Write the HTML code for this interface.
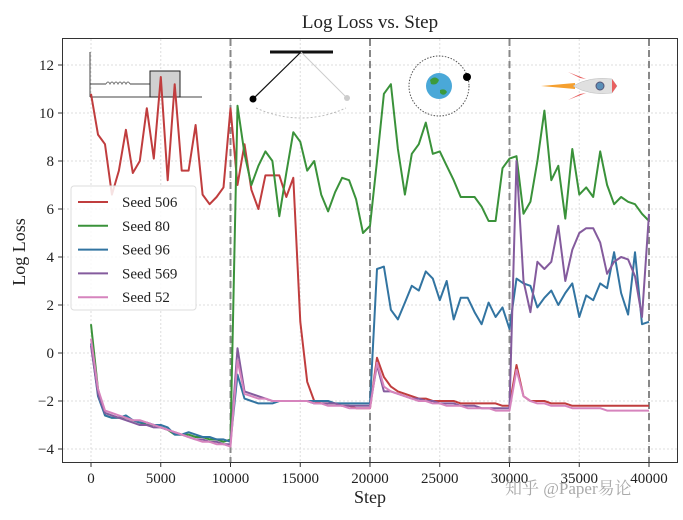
<!DOCTYPE html>
<html><head><meta charset="utf-8"><style>
html,body{margin:0;padding:0;background:#fff;}
svg text{font-family:"Liberation Serif","Noto Serif CJK SC",serif;}
</style></head><body>
<svg id="chart" width="683" height="515" xmlns="http://www.w3.org/2000/svg">
<rect x="0" y="0" width="683" height="515" fill="#fff"/>
<g id="grid"></g>
<g id="vlines"></g>
<g id="icons">
  <g stroke="#444" fill="none">
    <line x1="90" y1="52" x2="90" y2="97"/>
    <line x1="90" y1="97" x2="202" y2="97"/>
    <line x1="90" y1="84" x2="106" y2="84"/>
    <path d="M106 84 q2 -4 4 0 q2 -4 4 0 q2 -4 4 0 q2 -4 4 0 q2 -4 4 0 q2 -4 4 0" stroke="#777"/>
    <line x1="130" y1="84" x2="150" y2="84"/>
    <rect x="150" y="71" width="30" height="26" fill="#d0d0d0" stroke="#222"/>
  </g>
  <g>
    <line x1="270" y1="52" x2="333" y2="52" stroke="#111" stroke-width="3"/>
    <line x1="301" y1="52" x2="253" y2="99" stroke="#111" stroke-width="1.2"/>
    <line x1="301" y1="52" x2="347" y2="98" stroke="#ccc" stroke-width="1"/>
    <circle cx="253" cy="99" r="3.5" fill="#000"/>
    <circle cx="347" cy="98" r="3" fill="#ccc"/>
    <path d="M256 108 Q301 128 346 108" stroke="#bbb" fill="none" stroke-dasharray="2 2"/>
  </g>
  <g>
    <circle cx="439" cy="86" r="30" fill="none" stroke="#555" stroke-dasharray="1.5 1.5"/>
    <circle cx="439" cy="86" r="13" fill="#4aa8d8"/>
    <path d="M430 80 q5 -5 9 0 q-2 6 -8 4z M440 90 q5 -2 7 2 q-3 5 -7 1z" fill="#3c9a3c"/>
    <circle cx="467" cy="77" r="4" fill="#000"/>
  </g>
  <g>
    <path d="M541 86 L575 83 L575 89 Z" fill="#f5a030"/>
    <path d="M573 86 Q590 76 612 79 L617 86 L612 93 Q590 96 573 86Z" fill="#e0e0e0" stroke="#bbb" stroke-width="0.5"/>
    <path d="M580 78 L568 72 L586 79Z M580 94 L568 100 L586 93Z" fill="#e86060"/>
    <path d="M612 79 L617 86 L612 93 Z" fill="#e86060"/>
    <circle cx="600" cy="86" r="4" fill="#5b8fb8" stroke="#557"/>
  </g>
</g>
<g id="series"></g>
<rect x="62.5" y="38.5" width="615" height="424" fill="none" stroke="#333" stroke-width="1"/>
<g id="axes"></g>
<text x="370" y="28" font-size="19" text-anchor="middle" fill="#222">Log Loss vs. Step</text>
<text x="370" y="503" font-size="18" text-anchor="middle" fill="#222">Step</text>
<text x="25" y="252" font-size="18" text-anchor="middle" fill="#222" transform="rotate(-90 25 252)">Log Loss</text>
<g id="legend">
  <rect x="71" y="186" width="125" height="124" rx="3" fill="#fff" fill-opacity="0.85" stroke="#ddd"/>
</g>
<text x="505" y="494" font-size="17" fill="#aaa" font-family="Liberation Sans, Noto Sans CJK SC, sans-serif">知乎 @Paper易论</text>
</svg>
<script>
const seriesNames = ["Seed 506","Seed 80","Seed 96","Seed 569","Seed 52"];
const seriesColors = ["#c03d3e","#3a923a","#3274a1","#845b9d","#d684bd"];
const xTicks = [0,5000,10000,15000,20000,25000,30000,35000,40000];
const yTicks = [-4,-2,0,2,4,6,8,10,12];
const taskBoundaries = [10000,20000,30000,40000];
const stepStart = 0, stepSize = 500, stepCount = 81;
const seed506 = [10.8,9.1,8.7,6.6,7.6,9.3,7.5,8.0,10.2,8.1,11.5,7.2,11.2,7.6,7.6,9.5,6.6,6.2,6.5,6.9,10.2,
 7.0,8.7,6.8,6.0,7.4,7.4,7.4,6.5,7.3,1.3,-1.2,-2.0,-2.1,-2.1,-2.1,-2.2,-2.2,-2.3,-2.3,-2.3,
 -0.2,-1.0,-1.4,-1.6,-1.7,-1.8,-1.9,-1.9,-2.0,-2.0,-2.0,-2.0,-2.1,-2.1,-2.1,-2.1,-2.1,-2.1,-2.2,-2.2,
 -0.5,-1.8,-2.0,-2.0,-2.0,-2.1,-2.1,-2.1,-2.2,-2.2,-2.2,-2.2,-2.2,-2.2,-2.2,-2.2,-2.2,-2.2,-2.2,-2.2];
const seed80 = [1.2,-1.5,-2.6,-2.7,-2.7,-2.7,-2.8,-2.9,-3.0,-3.0,-3.1,-3.2,-3.4,-3.4,-3.4,-3.5,-3.5,-3.6,-3.6,-3.7,-3.6,
 10.3,8.3,7.0,7.8,8.4,8.0,5.7,7.5,9.2,8.8,7.6,8.0,6.6,5.9,6.7,7.3,7.2,6.4,5.0,5.3,
 8.0,10.8,11.2,8.5,6.6,8.3,8.7,9.6,8.3,8.4,7.8,7.2,6.5,6.5,6.5,6.1,5.5,5.5,7.7,8.1,
 8.2,5.8,6.3,8.0,10.1,7.2,7.8,5.6,8.5,6.6,6.9,6.5,8.4,7.0,6.2,6.5,6.3,6.2,5.8,5.5];
const seed96 = [0.4,-1.8,-2.6,-2.7,-2.7,-2.6,-2.8,-2.9,-2.9,-3.0,-3.0,-3.1,-3.4,-3.4,-3.3,-3.4,-3.5,-3.5,-3.6,-3.6,-3.7,
 -0.9,-1.9,-2.0,-2.1,-2.1,-2.1,-2.0,-2.0,-2.0,-2.0,-2.0,-2.0,-2.0,-2.0,-2.1,-2.1,-2.1,-2.1,-2.1,-2.1,
 3.5,3.6,1.8,1.4,2.1,2.8,2.6,3.4,3.1,2.2,3.0,1.4,2.3,2.3,1.7,1.2,2.1,1.5,1.9,1.0,
 3.1,2.9,2.8,1.9,2.3,2.6,2.0,2.5,2.9,1.5,2.4,2.2,2.9,2.7,4.2,2.5,1.6,4.2,1.2,1.3];
const seed569 = [0.3,-1.7,-2.5,-2.6,-2.7,-2.8,-2.9,-3.0,-3.0,-3.1,-3.1,-3.2,-3.3,-3.4,-3.5,-3.6,-3.6,-3.7,-3.7,-3.8,-3.8,
 0.2,-1.6,-1.7,-1.8,-1.9,-2.0,-2.0,-2.0,-2.0,-2.0,-2.0,-2.1,-2.1,-2.1,-2.1,-2.2,-2.2,-2.2,-2.2,-2.2,
 -0.5,-1.6,-1.6,-1.7,-1.8,-1.9,-1.9,-2.0,-2.0,-2.1,-2.1,-2.1,-2.2,-2.2,-2.2,-2.3,-2.3,-2.3,-2.3,-2.3,
 8.0,3.0,1.7,3.8,3.5,3.8,5.3,3.0,4.3,5.0,5.2,5.2,4.6,3.3,3.8,4.0,3.9,3.2,1.5,5.8];
const seed52 = [0.6,-1.5,-2.4,-2.5,-2.6,-2.7,-2.8,-2.8,-2.9,-3.0,-3.1,-3.2,-3.3,-3.4,-3.5,-3.6,-3.7,-3.7,-3.8,-3.8,-3.9,
 -0.3,-1.7,-1.8,-1.9,-1.9,-2.0,-2.0,-2.0,-2.0,-2.0,-2.0,-2.1,-2.1,-2.2,-2.2,-2.2,-2.3,-2.3,-2.3,-2.3,
 -0.4,-1.4,-1.6,-1.7,-1.8,-1.9,-2.0,-2.0,-2.1,-2.1,-2.2,-2.2,-2.2,-2.3,-2.3,-2.3,-2.3,-2.4,-2.4,-2.4,
 -0.7,-1.8,-2.0,-2.1,-2.1,-2.2,-2.2,-2.2,-2.3,-2.3,-2.3,-2.3,-2.3,-2.4,-2.4,-2.4,-2.4,-2.4,-2.4,-2.4];
const seriesValues = [seed506,seed80,seed96,seed569,seed52];

const NS = "http://www.w3.org/2000/svg";
const X0 = 91, X1 = 649, Y0 = 353, YPX = 24.0;
function xs(v){ return X0 + (v/40000)*(X1-X0); }
function ys(v){ return Y0 - v*YPX; }
function mk(tag, attrs, parent){ const e=document.createElementNS(NS,tag); for(const k in attrs) e.setAttribute(k,attrs[k]); parent.appendChild(e); return e; }

const grid=document.getElementById('grid'), axes=document.getElementById('axes');
xTicks.forEach(t=>{
  const l=mk('line',{x1:xs(t),x2:xs(t),y1:39,y2:462,stroke:'#ddd','stroke-dasharray':'2 2'},grid);
  
  
  const tk=mk('line',{x1:xs(t),x2:xs(t),y1:463,y2:467,stroke:'#333'},axes);
  
  
  const tx=mk('text',{x:xs(t),y:483,'font-size':15,'text-anchor':'middle',fill:'#222'},axes);
  tx.textContent=t;
  
  
});
yTicks.forEach(t=>{
  const l=mk('line',{x1:63,x2:677,y1:ys(t),y2:ys(t),stroke:'#ddd','stroke-dasharray':'2 2'},grid);
  
  
  const tk=mk('line',{x1:58,x2:62,y1:ys(t),y2:ys(t),stroke:'#333'},axes);
  
  
  const tx=mk('text',{x:54,y:ys(t)+5,'font-size':15,'text-anchor':'end',fill:'#222'},axes);
  tx.textContent=(t<0?'\u2212'+(-t):t);
  
  
});
const vl=document.getElementById('vlines');
taskBoundaries.forEach(b=>{
  const l=mk('line',{x1:xs(b),x2:xs(b),y1:39,y2:462,stroke:'#888','stroke-width':2,'stroke-dasharray':'7 4'},vl);
  
  
});
const sg=document.getElementById('series');
seriesValues.forEach((vals,i)=>{
  let d='';
  vals.forEach((v,j)=>{ const s=stepStart+j*stepSize; d+=(j?'L':'M')+xs(s).toFixed(1)+' '+ys(v).toFixed(1); });
  const p=mk('path',{d:d,fill:'none',stroke:seriesColors[i],'stroke-width':2,'stroke-linejoin':'round'},sg);
  
  
});
const lg=document.getElementById('legend');
seriesNames.forEach((n,i)=>{
  const y=202+i*23.8;
  const g=mk('g',{},lg);
  
  
  mk('line',{x1:78,x2:108,y1:y,y2:y,stroke:seriesColors[i],'stroke-width':2},g);
  const t=mk('text',{x:122,y:y+5,'font-size':15,fill:'#222'},g);
  t.textContent=n;
});
</script>
</body></html>
